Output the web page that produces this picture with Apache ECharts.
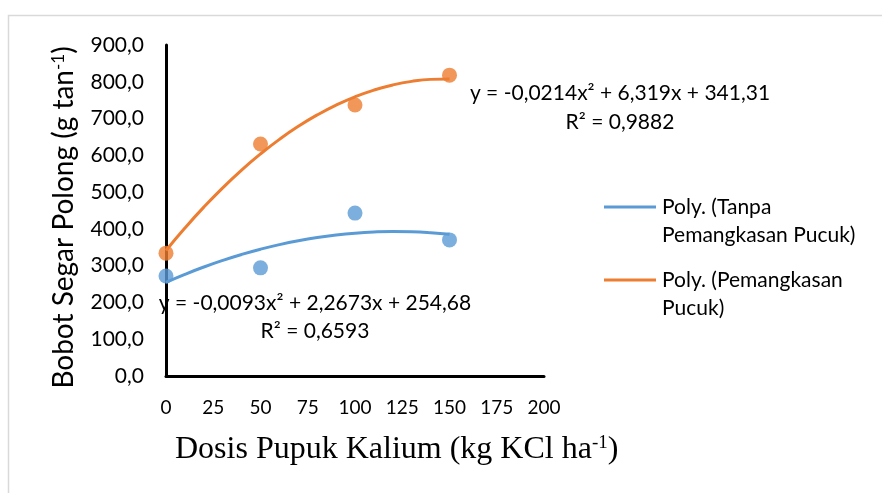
<!DOCTYPE html>
<html>
<head>
<meta charset="utf-8">
<script src="https://cdn.jsdelivr.net/npm/echarts@6/dist/echarts.min.js"></script>
<style>
  html, body { margin: 0; padding: 0; background: #fff; }
  #chart { width: 882px; height: 493px; }
</style>
</head>
<body>
<div id="chart"></div>
<script>
// dosis pupuk kalium (kg KCl/ha)
const dosis = [0, 50, 100, 150]
// bobot segar polong
const tanpaPangkas = [272, 294, 443, 370]
const pangkas = [334, 631, 737, 818]
// koefisien trendline dari label persamaan [a, b, c] -> ax^2 + bx + c
const coefTanpa = [-0.0093, 2.2673, 254.68]
const coefPangkas = [-0.0214, 6.319, 341.31]
const trendX = [0, 10, 20, 30, 40, 50, 60, 70, 80, 90, 100, 110, 120, 130, 140, 150]

const blue = '#5b9bd5'
const orange = '#ed7d31'
const font = 'Lato'

function trend(c) {
    return trendX.map(x => [x, c[0] * x * x + c[1] * x + c[2]])
}
function pts(ys) {
    return dosis.map((x, i) => [x, ys[i]])
}

const chart = echarts.init(document.getElementById('chart'))
chart.setOption({
    animation: false,
    grid: { left: 166, top: 45, right: 338, bottom: 117 },
    xAxis: {
        type: 'value',
        min: 0, max: 200, interval: 25,
        axisLine: { show: true, lineStyle: { color: '#000', width: 3 } },
        axisTick: { show: false },
        splitLine: { show: false },
        axisLabel: { color: '#000', fontFamily: font, fontSize: 19, margin: 22 }
    },
    yAxis: {
        type: 'value',
        min: 0, max: 900, interval: 100,
        axisLine: { show: true, lineStyle: { color: '#000', width: 3 } },
        axisTick: { show: false },
        splitLine: { show: false },
        axisLabel: {
            color: '#000', fontFamily: font, fontSize: 21, margin: 22,
            formatter: v => v.toFixed(1).replace('.', ',')
        },
        name: '{a|Bobot Segar Polong (g tan}{s|-1}{a|)}',
        nameLocation: 'middle',
        nameGap: 88,
        nameTextStyle: {
            padding: [0, 14, 0, 0],
            rich: {
                a: { fontFamily: font, fontSize: 28, color: '#000' },
                s: { fontFamily: font, fontSize: 17, color: '#000', verticalAlign: 'top', padding: [0, 0, 8, 0] }
            }
        }
    },
    series: [
        {
            name: 'Tanpa Pemangkasan Pucuk',
            type: 'scatter',
            data: pts(tanpaPangkas),
            symbolSize: 15,
            itemStyle: { color: blue },
            z: 3
        },
        {
            name: 'Pemangkasan Pucuk',
            type: 'scatter',
            data: pts(pangkas),
            symbolSize: 15,
            itemStyle: { color: orange },
            z: 3
        },
        {
            name: 'Poly. (Tanpa Pemangkasan Pucuk)',
            type: 'line',
            data: trend(coefTanpa),
            smooth: true,
            showSymbol: false,
            lineStyle: { color: blue, width: 3 }
        },
        {
            name: 'Poly. (Pemangkasan Pucuk)',
            type: 'line',
            data: trend(coefPangkas),
            smooth: true,
            showSymbol: false,
            lineStyle: { color: orange, width: 3 }
        }
    ],
    graphic: [
        // bingkai chart
        {
            type: 'rect',
            shape: { x: 8.5, y: 15.5, width: 880, height: 490 },
            style: { fill: 'none', stroke: '#d9d9d9', lineWidth: 1.5 },
            silent: true
        },
        // judul sumbu x
        {
            type: 'text',
            x: 175, y: 450,
            style: {
                text: '{a|Dosis Pupuk Kalium (kg KCl ha}{s|-1}{a|)}',
                verticalAlign: 'middle',
                rich: {
                    a: { fontFamily: 'Liberation Serif', fontSize: 32, fill: '#000' },
                    s: { fontFamily: 'Liberation Serif', fontSize: 19, fill: '#000', verticalAlign: 'top', padding: [0, 0, 10, 0] }
                }
            }
        },
        // label persamaan
        {
            type: 'text',
            x: 620, y: 108,
            style: {
                text: 'y = -0,0214x² + 6,319x + 341,31\nR² = 0,9882',
                font: '21px Lato', fill: '#000', align: 'center', verticalAlign: 'middle', lineHeight: 29
            }
        },
        {
            type: 'text',
            x: 315, y: 317,
            style: {
                text: 'y = -0,0093x² + 2,2673x + 254,68\nR² = 0,6593',
                font: '21px Lato', fill: '#000', align: 'center', verticalAlign: 'middle', lineHeight: 28
            }
        },
        // legenda
        {
            type: 'line',
            shape: { x1: 604, y1: 207, x2: 656, y2: 207 },
            style: { stroke: blue, lineWidth: 3 }
        },
        {
            type: 'text',
            x: 662, y: 193,
            style: { text: 'Poly. (Tanpa\nPemangkasan Pucuk)', font: '21px Lato', fill: '#000', lineHeight: 28 }
        },
        {
            type: 'line',
            shape: { x1: 604, y1: 280, x2: 656, y2: 280 },
            style: { stroke: orange, lineWidth: 3 }
        },
        {
            type: 'text',
            x: 662, y: 266,
            style: { text: 'Poly. (Pemangkasan\nPucuk)', font: '21px Lato', fill: '#000', lineHeight: 28 }
        }
    ]
})

window.addEventListener('resize', () => {
    chart.resize()
})
</script>
</body>
</html>
